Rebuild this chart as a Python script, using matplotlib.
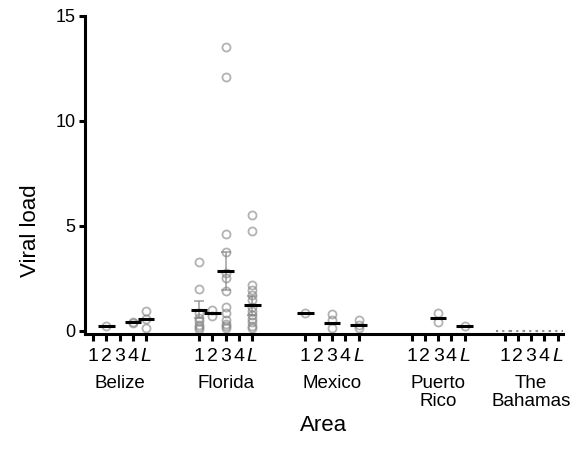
import matplotlib
matplotlib.use('Agg')
import matplotlib.pyplot as plt
import numpy as np

plt.rcParams['font.family'] = ['Liberation Sans', 'DejaVu Sans']

areas = ['Belize', 'Florida', 'Mexico', 'Puerto\nRico', 'The\nBahamas']
sub_labels = ['1', '2', '3', '4', 'L']

# individual observations, one list per sub-group (1, 2, 3, 4, L)
belize_pts = [[], [0.25], [], [0.40, 0.38], [0.95, 0.55, 0.15]]
florida_pts = [[3.3, 2.0, 0.85, 0.6, 0.45, 0.3, 0.2, 0.1],
               [0.7, 0.98],
               [13.5, 12.1, 4.6, 3.78, 2.75, 2.5, 1.9, 1.15, 0.85, 0.5, 0.35, 0.25, 0.15],
               [],
               [5.5, 4.78, 2.19, 1.95, 1.7, 1.48, 1.15, 0.95, 0.75, 0.55, 0.4, 0.25, 0.14]]
mexico_pts = [[0.87], [], [0.81, 0.5, 0.14], [], [0.5, 0.3, 0.14]]
puerto_rico_pts = [[], [], [0.84, 0.4], [], [0.25]]
bahamas_pts = [[], [], [], [], []]

# group means (black bars) and SEM (grey error bars)
belize_mean = [np.nan, 0.25, np.nan, 0.40, 0.56]
florida_mean = [1.0, 0.84, 2.86, np.nan, 1.22]
mexico_mean = [0.85, np.nan, 0.37, np.nan, 0.29]
puerto_rico_mean = [np.nan, np.nan, 0.62, np.nan, 0.24]
bahamas_mean = [0.0, 0.0, 0.0, 0.0, 0.0]

belize_sem = [0, 0, 0, 0, 0]
florida_sem = [0.40, 0, 0.92, 0, 0.45]
mexico_sem = [0, 0, 0, 0, 0]
puerto_rico_sem = [0, 0, 0, 0, 0]
bahamas_sem = [0, 0, 0, 0, 0]

all_pts = [belize_pts, florida_pts, mexico_pts, puerto_rico_pts, bahamas_pts]
all_mean = [belize_mean, florida_mean, mexico_mean, puerto_rico_mean, bahamas_mean]
all_sem = [belize_sem, florida_sem, mexico_sem, puerto_rico_sem, bahamas_sem]

# layout: start position of each area on the x axis
group_start = [0, 8, 16, 24, 31]

fig = plt.figure(figsize=(5.83, 4.61), dpi=100)
ax = fig.add_axes([85/583, 1-334/461, (563-85)/583, (334-16)/461])

grey = (0.5, 0.5, 0.5)
bar_w = 1.25
tick_pos, tick_lab = [], []
for g, (pts, means, sems) in enumerate(zip(all_pts, all_mean, all_sem)):
    for i in range(5):
        x = group_start[g] + i
        tick_pos.append(x)
        tick_lab.append(sub_labels[i])
        if pts[i]:
            ax.plot([x]*len(pts[i]), pts[i], 'o', mfc='none', mec=grey, mew=1.3,
                    ms=5.8, alpha=0.6, zorder=2, clip_on=False)
        if sems[i] > 0:
            ax.errorbar([x], [means[i]], yerr=[sems[i]], fmt='none', ecolor=grey,
                        elinewidth=1.2, capsize=3.5, capthick=1.2, alpha=0.7, zorder=3)
        if not np.isnan(means[i]):
            if g == 4:
                ax.hlines(means[i], x - bar_w/2, x + bar_w/2, colors=(0.55, 0.55, 0.55),
                          linewidth=1.5, linestyles=(0, (1, 2)), zorder=4)
            else:
                ax.hlines(means[i], x - bar_w/2, x + bar_w/2, colors='black',
                          linewidth=2.2, zorder=4)

ax.set_xlim(-0.6, 35.4)
ax.set_ylim(-0.15, 15)
ax.set_yticks([0, 5, 10, 15])
ax.set_xticks(tick_pos)
ax.set_xticklabels(tick_lab)
for t in ax.get_xticklabels():
    if t.get_text() == 'L':
        t.set_fontstyle('italic')

for s in ['top', 'right']:
    ax.spines[s].set_visible(False)
for s in ['left', 'bottom']:
    ax.spines[s].set_linewidth(2.2)

ax.tick_params(axis='y', length=4, width=2.2, labelsize=13, pad=3)
ax.tick_params(axis='x', length=5, width=2.2, labelsize=14, pad=5)

for g, name in enumerate(areas):
    ax.annotate(name, xy=(group_start[g] + 2, 0), xycoords=('data', 'axes fraction'),
                xytext=(0, -29.5), textcoords='offset points', ha='center', va='top',
                fontsize=13.5, linespacing=1.05)

fig.text(30/583, 1-231/461, 'Viral load', fontsize=16, rotation=90,
         ha='center', va='center')
fig.text((85+563)/2/583, 1-425/461, 'Area', fontsize=16, ha='center', va='center')

fig.savefig('out.png', dpi=100)
